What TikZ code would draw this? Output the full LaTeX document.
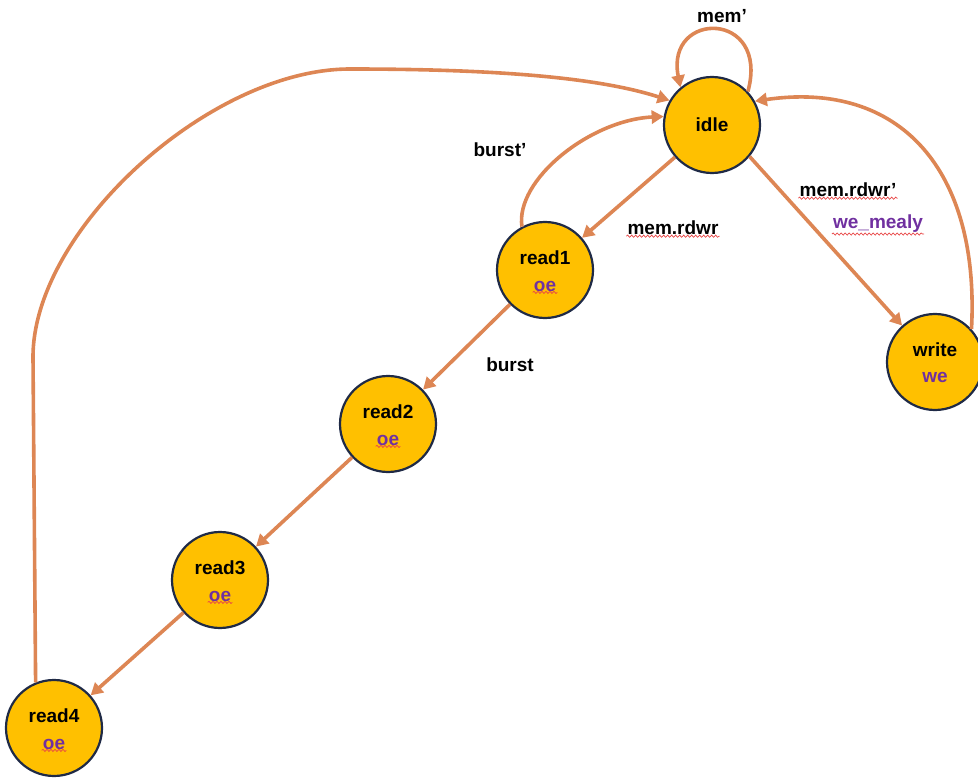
\documentclass[tikz,border=0pt]{standalone}
\usepackage{fontspec}
\setmainfont{Liberation Sans}
\usetikzlibrary{arrows.meta,decorations.pathmorphing}

\definecolor{stategold}{RGB}{255,192,0}
\definecolor{stateedge}{RGB}{31,42,70}
\definecolor{transorange}{RGB}{221,134,84}
\definecolor{outpurple}{RGB}{112,48,160}
\definecolor{spellred}{RGB}{232,70,70}

\begin{document}
\begin{tikzpicture}[x=1pt,y=-1pt,
  state/.style={circle, fill=stategold, draw=stateedge, line width=2.2pt, minimum size=96pt, inner sep=0pt},
  trans/.style={draw=transorange, line width=3.6pt, -{Triangle[length=12pt,width=13pt]}},
  lbl/.style={font=\fontsize{19}{22}\selectfont\bfseries, inner sep=1pt},
  outlbl/.style={lbl, text=outpurple},
  squiggle/.style={draw=spellred, line width=0.7pt, decorate, decoration={snake, amplitude=1.1pt, segment length=4pt}}]
\useasboundingbox (0,0) rectangle (978,778);

% states
\node[state] (idle) at (712,125) {};
\node[state] (read1) at (545,270) {};
\node[state] (read2) at (388,424) {};
\node[state] (read3) at (220,580) {};
\node[state] (read4) at (54,728) {};
\node[state] (write) at (935,362) {};

% state names and outputs
\node[lbl] at (idle.center) {idle};
\node[lbl] at ([yshift=12pt]read1.center) {read1};
\node[outlbl] (oe1) at ([yshift=-16pt]read1.center) {oe};
\node[lbl] at ([yshift=12pt]read2.center) {read2};
\node[outlbl] (oe2) at ([yshift=-16pt]read2.center) {oe};
\node[lbl] at ([yshift=12pt]read3.center) {read3};
\node[outlbl] (oe3) at ([yshift=-16pt]read3.center) {oe};
\node[lbl] at ([yshift=12pt]read4.center) {read4};
\node[outlbl] (oe4) at ([yshift=-16pt]read4.center) {oe};
\node[lbl] at ([yshift=12pt]write.center) {write};
\node[outlbl] (we) at ([yshift=-15pt]write.center) {we};

% transitions
\draw[trans] (idle.43) .. controls (770,10) and (665,10) .. (idle.130);
\draw[trans] (idle) -- (read1);
\draw[trans] (read1) -- (read2);
\draw[trans] (read2) -- (read3);
\draw[trans] (read3) -- (read4);
\draw[trans] (read1.118) .. controls (515,180) and (590,120) .. (idle.170);
\draw[trans] (idle.-40) -- (write);
\draw[trans] (write.42) .. controls (980,170) and (900,80) .. (idle.29);
\draw[trans] (read4.112) -- (33,357) .. controls (33,230) and (210,69) .. (350,69)
  .. controls (500,69) and (600,78) .. (idle.150);

% transition labels
\node[lbl] (memq) at (722,16) {mem’};
\node[lbl] (burstq) at (500,150) {burst’};
\node[lbl] (rdwr) at (673,228) {mem.rdwr};
\node[lbl] (burst) at (510,365) {burst};
\node[lbl] (rdwrq) at (848,190) {mem.rdwr’};
\node[outlbl] (mealy) at (878,224) {we\_mealy};

% spell-check underlines
\draw[squiggle] (rdwr.south west) -- (rdwr.south east);
\draw[squiggle] (rdwrq.south west) -- (rdwrq.south east);
\draw[squiggle] (mealy.south west) -- (mealy.south east);
\draw[squiggle] (oe1.south west) -- (oe1.south east);
\draw[squiggle] (oe2.south west) -- (oe2.south east);
\draw[squiggle] (oe3.south west) -- (oe3.south east);
\draw[squiggle] (oe4.south west) -- (oe4.south east);

\end{tikzpicture}
\end{document}
